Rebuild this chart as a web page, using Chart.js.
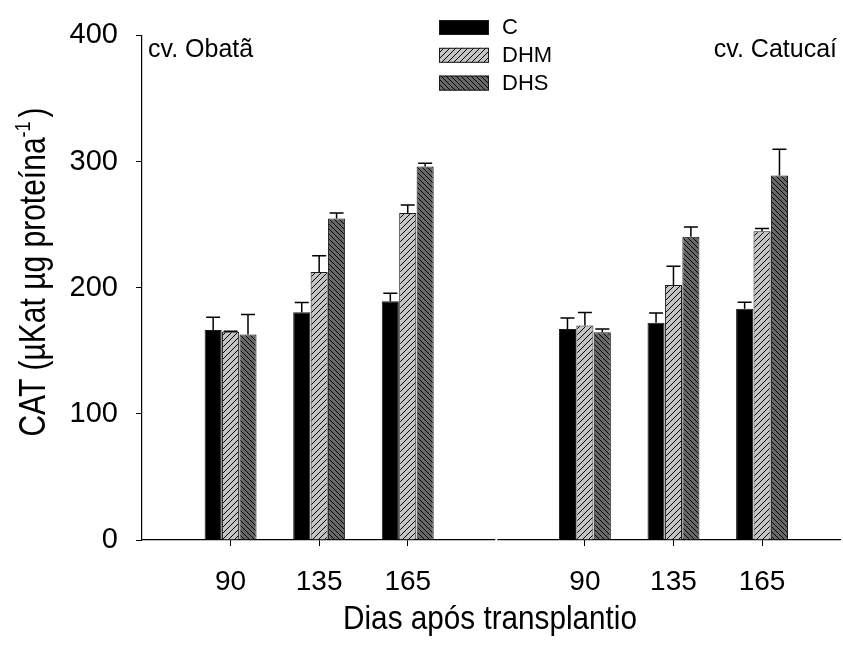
<!DOCTYPE html>
<html>
<head>
<meta charset="utf-8">
<script src="https://cdn.jsdelivr.net/npm/chart.js@4"></script>
<style>
  body { margin: 0; background: #fff; }
  #wrap { width: 843px; height: 651px; }
</style>
</head>
<body>
<div id="wrap"><canvas id="catChart"></canvas></div>
<script>
// days after transplant, for both cultivars (gap on slot 4 between them)
const dayLabels = ['90', '135', '165', '90', '135', '165'];
const slots = [1, 2, 3, 5, 6, 7];
const seriesNames = ['C', 'DHM', 'DHS'];

// CAT activity
const valuesC   = [166.5, 180.6, 189.3, 167.3, 172.3, 183.3];
const valuesDHM = [165.0, 212.5, 259.3, 170.0, 202.1, 244.7];
const valuesDHS = [163.0, 254.9, 296.0, 164.7, 240.3, 288.9];

// upper error bars
const errC   = [10.0, 7.6, 6.3, 8.7, 7.6, 5.2];
const errDHM = [0.5, 12.9, 6.3, 10.4, 14.9, 2.3];
const errDHS = [15.8, 4.4, 2.6, 2.6, 7.8, 20.9];

const yTicks = [0, 100, 200, 300, 400];
const cultivars = ['cv. Obatã', 'cv. Catucaí'];

const canvas = document.getElementById('catChart');
const ctx = canvas.getContext('2d');

// hatch fill like the original plot
const makeHatch = (bg, dir, step) => {
    const c = document.createElement('canvas');
    c.width = step;
    c.height = step;
    const g = c.getContext('2d');
    g.fillStyle = bg;
    g.fillRect(0, 0, step, step);
    g.strokeStyle = '#000';
    g.lineWidth = 1;
    g.beginPath();
    if (dir === '/') {
        g.moveTo(-1, step + 1); g.lineTo(step + 1, -1);
        g.moveTo(-1, 1); g.lineTo(1, -1);
        g.moveTo(step - 1, step + 1); g.lineTo(step + 1, step - 1);
    } else {
        g.moveTo(-1, -1); g.lineTo(step + 1, step + 1);
        g.moveTo(step - 1, -1); g.lineTo(step + 1, 1);
        g.moveTo(-1, step - 1); g.lineTo(1, step + 1);
    }
    g.stroke();
    return ctx.createPattern(c, 'repeat');
};

const fills = ['#000000', makeHatch('#c4c4c4', '/', 6), makeHatch('#686868', '\\', 5)];
const allValues = [valuesC, valuesDHM, valuesDHS];
const allErrors = [errC, errDHM, errDHS];

const datasets = seriesNames.map((name, k) => ({
    label: name,
    data: slots.map((s, i) => ({ x: s, y: allValues[k][i] })),
    errors: allErrors[k],
    backgroundColor: fills[k],
    borderColor: '#1a1a1a',
    borderWidth: 1,
    categoryPercentage: 0.59,
    barPercentage: 0.98
}));

// error bars (upper side only)
const errorBars = {
    id: 'errorBars',
    afterDatasetsDraw(chart) {
        const c = chart.ctx;
        const y = chart.scales.y;
        c.save();
        c.strokeStyle = '#000';
        c.lineWidth = 1.5;
        chart.data.datasets.forEach((ds, di) => {
            chart.getDatasetMeta(di).data.forEach((bar, i) => {
                const top = y.getPixelForValue(ds.data[i].y + ds.errors[i]);
                c.beginPath();
                c.moveTo(bar.x, bar.y);
                c.lineTo(bar.x, top);
                c.moveTo(bar.x - 7, top);
                c.lineTo(bar.x + 7, top);
                c.stroke();
            });
        });
        c.restore();
    }
};

// axis titles, cultivar names and the stacked legend
const annotations = {
    id: 'annotations',
    afterDraw(chart) {
        const c = chart.ctx;
        const area = chart.chartArea;
        c.save();

        // small break in the x axis between the two cultivars
        const gapX = chart.scales.x.getPixelForValue(4);
        c.fillStyle = '#fff';
        c.fillRect(gapX - 1, area.bottom - 2, 2, 4);

        c.fillStyle = '#000';

        // y title with superscript (glyphs a bit wider, as in the original)
        c.translate(45, 272);
        c.rotate(-Math.PI / 2);
        c.scale(1, 1.25);
        c.textBaseline = 'alphabetic';
        c.textAlign = 'left';
        const main = 'CAT (µKat µg proteína';
        const sup = '-1';
        c.font = '18px Arial';
        const supW = c.measureText(sup).width;
        c.font = '30px Arial';
        const mainW = c.measureText(main).width;
        const closeW = c.measureText(')').width;
        const x0 = -(mainW + supW + 4 + closeW) / 2;
        c.fillText(main, x0, 0);
        c.fillText(')', x0 + mainW + supW + 4, 0);
        c.font = '18px Arial';
        c.fillText(sup, x0 + mainW, -12);
        c.setTransform(1, 0, 0, 1, 0, 0);

        // x title (narrow glyphs)
        c.translate(490, 629);
        c.scale(0.9, 1);
        c.font = '33px Arial';
        c.textAlign = 'center';
        c.fillText('Dias após transplantio', 0, 0);
        c.setTransform(1, 0, 0, 1, 0, 0);

        // cultivar labels
        c.font = '25px Arial';
        c.textAlign = 'left';
        c.fillText(cultivars[0], area.left + 6, 57);
        c.textAlign = 'right';
        c.fillText(cultivars[1], 837, 57);

        // legend
        c.font = '22px Arial';
        c.textAlign = 'left';
        c.textBaseline = 'middle';
        chart.data.datasets.forEach((ds, i) => {
            const by = 20 + i * 27.8;
            c.fillStyle = ds.backgroundColor;
            c.fillRect(439, by, 50, 15);
            c.strokeStyle = '#1a1a1a';
            c.lineWidth = 1;
            c.strokeRect(439.5, by + 0.5, 49, 14);
            c.fillStyle = '#000';
            c.fillText(ds.label, 502, by + 8);
        });
        c.restore();
    }
};

new Chart(ctx, {
    type: 'bar',
    data: { datasets: datasets },
    options: {
        responsive: true,
        maintainAspectRatio: false,
        animation: false,
        layout: { padding: { top: 30, right: 3, left: 0, bottom: 0 } },
        plugins: {
            legend: { display: false },
            tooltip: { enabled: false }
        },
        scales: {
            x: {
                type: 'linear',
                min: 0,
                max: 7.88,
                offset: false,
                grid: { offset: false, drawOnChartArea: false, drawTicks: true, tickLength: 6, color: '#000' },
                border: { color: '#000', width: 1.2 },
                afterBuildTicks: (scale) => { scale.ticks = slots.map(v => ({ value: v })); },
                afterFit: (scale) => { scale.height = 111; },
                ticks: {
                    autoSkip: false,
                    maxRotation: 0,
                    padding: 19,
                    color: '#000',
                    font: { family: 'Arial', size: 28 },
                    callback: (v, i) => dayLabels[i]
                }
            },
            y: {
                min: 0,
                max: 400,
                grid: { drawOnChartArea: false, drawTicks: true, tickLength: 6, color: '#000' },
                border: { color: '#000', width: 1.2 },
                afterBuildTicks: (scale) => { scale.ticks = yTicks.map(v => ({ value: v })); },
                afterFit: (scale) => { scale.width = 142; },
                ticks: {
                    padding: 18,
                    color: '#000',
                    font: { family: 'Arial', size: 29 }
                }
            }
        }
    },
    plugins: [errorBars, annotations]
});
</script>
</body>
</html>
